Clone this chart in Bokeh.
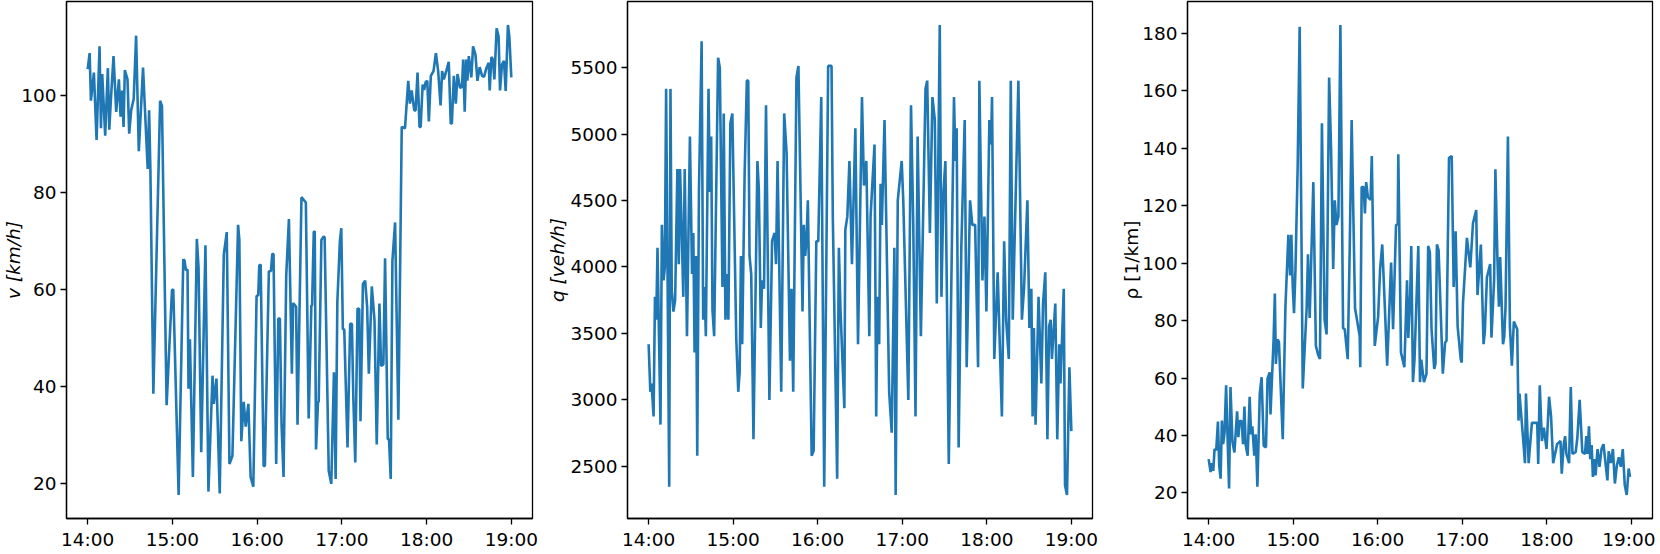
from bokeh.plotting import figure
from bokeh.layouts import row
from bokeh.models import FixedTicker, Range1d
from bokeh.embed import file_html
from bokeh.resources import INLINE

# x: minutes after 14:00
time_ticks = [0, 60, 120, 180, 240, 300]
time_labels = ["14:00", "15:00", "16:00", "17:00", "18:00", "19:00"]

# speed v [km/h]
v_min = [0, 1.4, 2.3, 4.4, 6.3, 8.4, 9.4, 10.3, 12.4, 14.3, 15.3, 16.4, 18.3, 20.2, 22.1, 23.3, 24.4,
         25.4, 26.3, 28.2, 29.4, 30.8, 32.6, 34.3, 36.2, 39.2, 42.5, 43.5, 44.4, 46.5, 51.3, 52.6,
         55.9, 59.7, 60.6, 64.4, 67.7, 68.6, 69.6, 70.7, 71.4, 72.4, 74.5, 77.3, 78.5, 80.4, 83.4,
         85.5, 88.4, 89.3, 91.2, 93.5, 96.4, 98.5, 100.4, 102.5, 106.5, 107.4, 108.8, 110.5, 111.9,
         113.8, 115.4, 117.3, 119.6, 120.8, 121.5, 122.5, 124.6, 125.5, 128.3, 129.8, 130.7, 131.6,
         133.5, 135.0, 136.1, 137.3, 138.7, 140.6, 142.5, 144.6, 145.5, 147.6, 148.6, 151.4, 154.5,
         156.5, 158.4, 158.9, 160.1, 160.8, 161.7, 163.1, 163.6, 165.5, 167.1, 167.8, 170.7, 172.5,
         174.4, 175.6, 176.8, 178.6, 179.6, 180.7, 181.7, 184.0, 185.9, 187.1, 188.1, 189.5, 191.1,
         192.3, 193.2, 194.9, 196.5, 197.9, 199.1, 201.2, 203.1, 204.7, 206.6, 207.8, 209.4, 210.6,
         212.5, 213.4, 214.6, 215.8, 217.7, 220.0, 222.4, 224.7, 227.0, 228.2, 229.4, 231.3, 232.2,
         233.6, 235.0, 235.8, 237.2, 238.3, 239.3, 240.5, 241.6, 243.0, 244.9, 246.6, 248.2, 249.9,
         251.0, 252.2, 253.9, 255.7, 257.1, 257.9, 259.3, 260.7, 261.9, 263.7, 265.1, 265.9, 267.0,
         268.0, 268.9, 269.9, 271.7, 272.9, 274.6, 276.0, 277.6, 279.3, 280.7, 282.3, 284.0, 284.7,
         285.9, 287.0, 288.0, 289.6, 291.0, 292.0, 293.4, 294.8, 296.0, 297.6, 298.6, 300.0]
v_val = [105.5, 108.8, 99.0, 104.8, 90.9, 110.2, 93.3, 104.5, 91.8, 105.7, 93.0, 99.0, 108.2, 96.7,
         103.4, 95.7, 101.1, 93.6, 105.3, 103.4, 92.2, 97.0, 99.4, 112.4, 88.6, 105.8, 84.9, 97.0,
         84.9, 38.6, 99.0, 97.9, 36.2, 59.9, 60.1, 17.7, 66.3, 66.0, 64.0, 64.2, 39.6, 49.8, 21.4,
         70.5, 64.6, 26.5, 69.2, 18.4, 42.3, 36.5, 41.7, 18.0, 67.3, 71.9, 24.1, 25.8, 73.4, 70.3,
         28.8, 36.9, 31.8, 36.5, 21.4, 19.4, 58.7, 58.9, 65.0, 65.2, 23.7, 23.7, 63.8, 63.9, 67.4,
         67.4, 24.1, 54.1, 54.1, 32.2, 21.4, 62.9, 74.6, 42.7, 57.3, 56.5, 32.2, 79.1, 78.0, 33.5,
         56.8, 56.8, 71.9, 72.1, 27.1, 36.9, 36.9, 70.3, 71.0, 70.8, 22.7, 20.0, 43.0, 21.0, 57.5,
         70.0, 72.7, 51.9, 51.8, 27.5, 53.0, 53.0, 37.9, 24.4, 56.2, 56.0, 32.9, 61.2, 61.9, 56.5,
         42.7, 60.7, 53.8, 28.1, 57.2, 44.3, 44.6, 66.5, 29.2, 29.2, 21.0, 66.0, 73.9, 33.2, 93.6,
         93.3, 103.1, 98.4, 101.1, 97.0, 97.0, 104.8, 93.6, 93.6, 102.3, 101.2, 102.8, 103.1, 94.7,
         104.1, 105.1, 108.8, 105.1, 98.0, 105.1, 103.4, 105.1, 107.0, 94.3, 94.3, 104.1, 98.4,
         104.5, 101.6, 101.9, 107.5, 96.7, 107.5, 103.1, 108.2, 103.8, 110.2, 108.5, 103.1, 105.9,
         104.1, 103.9, 105.7, 106.8, 101.1, 108.0, 107.5, 103.4, 113.9, 112.2, 101.1, 106.5, 107.2,
         101.0, 114.6, 112.2, 103.8]

# flow q [veh/h]
q_min = [0.0, 1.2, 2.1, 3.5, 4.5, 5.4, 6.3, 8.4, 9.4, 10.6, 11.5, 12.4, 14.6, 15.5, 16.4, 17.6, 18.8,
         20.4, 21.4, 22.3, 23.3, 24.6, 25.6, 27.2, 29.3, 30.8, 31.7, 32.6, 33.6, 34.5, 35.7, 37.6,
         38.7, 39.7, 40.6, 42.5, 43.4, 44.4, 45.3, 46.5, 49.3, 50.5, 52.4, 53.3, 54.5, 55.6, 56.6,
         58.0, 59.4, 62.2, 63.6, 64.6, 65.5, 66.4, 68.1, 69.7, 70.7, 71.6, 72.8, 74.4, 77.2, 78.2,
         79.6, 80.5, 81.9, 83.3, 85.7, 87.6, 89.4, 90.4, 91.5, 94.1, 96.2, 97.9, 100.3, 101.4, 102.6,
         104.9, 106.3, 109.2, 110.1, 111.1, 112.0, 113.0, 115.7, 117.1, 119.0, 120.4, 122.5, 124.6,
         127.4, 129.8, 130.7, 133.8, 135.0, 136.2, 138.9, 139.6, 141.0, 142.5, 144.3, 146.7, 148.6,
         151.4, 152.8, 154.5, 156.6, 157.5, 160.3, 161.5, 162.4, 163.6, 164.6, 165.5, 167.4, 170.7,
         172.5, 174.4, 175.3, 176.8, 179.6, 180.7, 184.3, 186.2, 187.8, 189.4, 190.9, 193.2, 196.5,
         197.7, 199.6, 201.4, 203.1, 204.5, 206.6, 207.8, 209.2, 210.6, 213.0, 216.7, 217.7, 218.6,
         220.0, 221.9, 224.3, 225.7, 228.1, 229.7, 231.7, 233.8, 234.7, 236.9, 238.3, 239.7, 241.8,
         243.0, 243.7, 245.3, 247.7, 250.7, 252.3, 253.7, 255.6, 257.0, 258.4, 262.4, 264.9, 266.4,
         268.8, 270.2, 271.6, 272.5, 273.4, 274.6, 276.7, 278.7, 279.9, 281.5, 283.0, 284.2, 285.3,
         286.2, 288.6, 290.0, 291.4, 292.3, 294.6, 295.5, 296.9, 298.6, 300.0]
q_val = [3417, 3059, 3121, 2874, 3774, 3602, 4144, 2812, 4316, 3898, 3996, 5340, 2344, 5340, 3824,
         3663, 3750, 4736, 4020, 4736, 4341, 3774, 4736, 3478, 4982, 3946, 4255, 3355, 4082, 2578,
         4563, 5698, 3602, 3848, 3478, 5340, 4563, 4982, 3676, 3478, 5574, 5500, 3848, 5155, 3602,
         3946, 3602, 5081, 5155, 3454, 3059, 3207, 4082, 3417, 4686, 5402, 5402, 4082, 3946, 2701,
         4797, 4588, 3540, 3898, 3835, 5217, 2997, 4193, 4255, 4020, 4797, 3059, 5155, 4859, 3293,
         3835, 3059, 5426, 5513, 3663, 4316, 4082, 4193, 4501, 2578, 2615, 4193, 4193, 5278, 2344,
         5513, 5513, 4378, 2405, 4144, 3663, 2936, 4279, 4378, 4797, 4020, 5044, 3417, 5278, 4612,
         4797, 3478, 4378, 4921, 2874, 3774, 3417, 4625, 4316, 5106, 3059, 2751, 4144, 2282, 4501,
         4797, 4501, 2997, 5217, 4316, 2874, 4982, 3478, 5340, 5402, 4255, 5278, 5106, 3724, 5821,
         3774, 4563, 4797, 2516, 5278, 4797, 5044, 2640, 4144, 5106, 3244, 4501, 4316, 4316, 3244,
         5402, 3898, 4378, 3663, 5106, 4921, 5278, 3306, 3959, 2874, 4193, 3602, 3306, 5402, 3602,
         5402, 3602, 3835, 4501, 3540, 3835, 2874, 3540, 2812, 3774, 3121, 3724, 3959, 2701, 3552,
         3602, 3306, 3724, 2701, 3417, 3121, 3835, 2356, 2282, 3244, 2763]

# density rho [1/km]
r_min = [0.0, 1.4, 2.3, 3.3, 4.2, 5.4, 6.6, 7.5, 8.5, 9.4, 10.3, 11.3, 12.4, 13.6, 14.5, 15.5, 16.9,
         18.3, 20.2, 21.1, 22.1, 23.5, 24.4, 25.4, 26.3, 27.7, 29.1, 30.1, 31.0, 32.4, 33.4, 34.6,
         36.3, 37.6, 39.1, 40.7, 41.8, 43.3, 43.9, 46.1, 47.0, 47.7, 48.9, 49.9, 52.6, 54.5, 56.6,
         57.8, 58.7, 59.7, 60.6, 61.6, 63.2, 64.6, 66.8, 69.6, 70.5, 71.7, 74.3, 76.1, 77.6, 79.0,
         80.4, 82.3, 83.7, 85.5, 86.9, 88.4, 89.5, 90.7, 92.1, 93.5, 95.4, 96.6, 98.7, 100.1, 101.5,
         103.9, 107.2, 107.6, 108.6, 110.0, 110.9, 111.8, 113.0, 114.9, 115.8, 117.9, 120.3, 121.7,
         123.2, 124.9, 126.7, 129.5, 130.9, 133.0, 134.2, 134.6, 136.5, 138.9, 140.8, 141.7, 143.1,
         143.8, 145.0, 146.1, 148.8, 150.0, 150.9, 152.8, 154.6, 155.8, 157.0, 158.2, 160.1, 161.0,
         162.0, 163.2, 166.2, 167.8, 168.8, 170.6, 172.5, 173.9, 175.3, 176.7, 178.9, 179.6, 180.5,
         183.3, 185.7, 187.6, 189.9, 190.8, 193.2, 195.1, 196.0, 197.5, 199.8, 200.7, 202.6, 203.5,
         204.9, 206.0, 206.9, 208.9, 209.8, 210.7, 212.4, 213.8, 215.2, 216.6, 219.0, 219.9, 220.6,
         223.1, 224.5, 225.2, 227.1, 229.4, 233.2, 233.9, 235.0, 236.5, 237.9, 239.8, 241.6, 243.0,
         244.5, 247.3, 249.7, 250.6, 252.0, 253.0, 253.9, 255.8, 257.0, 258.2, 260.5, 261.7, 263.3,
         265.2, 267.1, 268.0, 269.0, 269.9, 270.8, 271.8, 272.7, 273.6, 274.6, 276.0, 277.4, 278.8,
         280.2, 283.0, 283.9, 285.4, 286.9, 288.3, 289.7, 291.1, 292.5, 293.9, 295.3, 296.7, 298.1,
         299.0]
r_val = [31.8, 27.3, 30.4, 27.7, 35.3, 34.9, 44.9, 29.6, 25.0, 45.2, 37.0, 41.0, 57.5, 36.4, 21.6,
         56.9, 37.8, 34.1, 48.4, 39.4, 45.2, 44.9, 37.0, 50.1, 36.7, 33.0, 53.5, 40.4, 43.2, 33.0,
         40.4, 22.2, 54.6, 60.3, 36.4, 35.9, 59.8, 62.0, 47.3, 73.5, 89.4, 64.9, 73.5, 72.5, 38.7,
         84.9, 109.9, 95.7, 109.9, 91.7, 82.6, 97.4, 133.9, 182.3, 56.4, 84.9, 103.1, 80.9, 128.2,
         71.2, 68.3, 66.6, 148.7, 80.3, 75.2, 164.6, 139.6, 98.0, 121.9, 113.3, 116.2, 182.9, 77.4,
         77.0, 66.6, 104.2, 149.8, 84.3, 74.6, 63.8, 126.5, 126.5, 117.3, 128.2, 123.1, 122.0,
         137.3, 71.2, 81.4, 98.0, 106.5, 86.6, 64.3, 100.2, 77.0, 113.3, 113.5, 137.9, 68.9, 63.8,
         94.0, 74.0, 89.4, 106.0, 58.6, 66.6, 106.0, 58.6, 66.4, 58.6, 61.5, 106.0, 103.8, 76.9,
         63.2, 65.0, 106.5, 104.5, 61.5, 72.3, 73.0, 136.7, 137.3, 91.7, 111.1, 78.0, 66.6, 65.4,
         86.0, 108.8, 98.5, 113.9, 118.5, 88.9, 106.5, 71.8, 76.0, 95.1, 99.7, 74.1, 94.0, 132.7,
         102.5, 84.8, 102.1, 71.8, 74.5, 84.8, 144.1, 78.0, 64.3, 79.7, 77.0, 45.2, 54.6, 39.4, 30.4,
         54.6, 30.4, 44.4, 44.4, 30.1, 57.5, 38.1, 42.7, 35.3, 53.5, 46.7, 30.4, 37.0, 38.1, 26.7,
         37.0, 39.8, 33.6, 30.4, 56.9, 33.6, 34.2, 39.4, 52.4, 34.2, 33.6, 39.8, 33.6, 43.2, 31.8,
         36.7, 25.6, 31.8, 26.1, 35.3, 29.1, 35.3, 37.0, 24.4, 34.5, 30.4, 35.3, 23.3, 29.6, 32.4,
         29.1, 35.3, 22.9, 19.3, 28.5, 25.6]

v_ticks = [20, 40, 60, 80, 100]
q_ticks = [2500, 3000, 3500, 4000, 4500, 5000, 5500]
r_ticks = [20, 40, 60, 80, 100, 120, 140, 160, 180]

FONT = "DejaVu Sans"
FS = "18.5px"


def make(xs, ys, ylabel, yticks, width, bl, br, italic, label_standoff):
    lo, hi = min(ys), max(ys)
    pad = (hi - lo) * 0.05
    p = figure(width=width, height=552, output_backend="svg", toolbar_location=None,
               x_range=Range1d(-15, 315), y_range=Range1d(lo - pad, hi + pad),
               min_border_left=bl, min_border_right=br, min_border_top=1,
               min_border_bottom=29)
    p.line(xs, ys, line_color="#1f77b4", line_width=2.6)
    p.xgrid.visible = False
    p.ygrid.visible = False
    p.outline_line_color = "black"
    p.outline_line_alpha = 1.0
    p.outline_line_width = 1.3
    p.background_fill_color = "white"
    p.border_fill_color = "white"
    p.xaxis.ticker = FixedTicker(ticks=time_ticks)
    p.xaxis.major_label_overrides = {t: l for t, l in zip(time_ticks, time_labels)}
    p.yaxis.ticker = FixedTicker(ticks=yticks)
    for ax in (p.xaxis[0], p.yaxis[0]):
        ax.minor_tick_line_color = None
        ax.major_tick_in = 0
        ax.major_tick_out = 6
        ax.major_tick_line_color = "black"
        ax.major_tick_line_width = 1.3
        ax.axis_line_color = "black"
        ax.axis_line_width = 1.3
        ax.major_label_text_font = FONT
        ax.major_label_text_font_size = FS
        ax.major_label_text_color = "black"
        ax.major_label_standoff = 4
    p.yaxis.axis_label = ylabel
    p.yaxis.axis_label_text_font = FONT
    p.yaxis.axis_label_text_font_size = FS
    p.yaxis.axis_label_text_color = "black"
    p.yaxis.axis_label_text_font_style = "italic" if italic else "normal"
    p.yaxis.axis_label_standoff = label_standoff
    return p


p1 = make(v_min, v_val, "v [km/h]", v_ticks, 544, 65, 12, True, -6)
p2 = make(q_min, q_val, "q [veh/h]", q_ticks, 574, 80, 26, True, -1)
p3 = make(r_min, r_val, "ρ [1/km]", r_ticks, 537, 66, 3, False, -3)

layout = row(p1, p2, p3)
open("out.html", "w").write(file_html(layout, INLINE))
